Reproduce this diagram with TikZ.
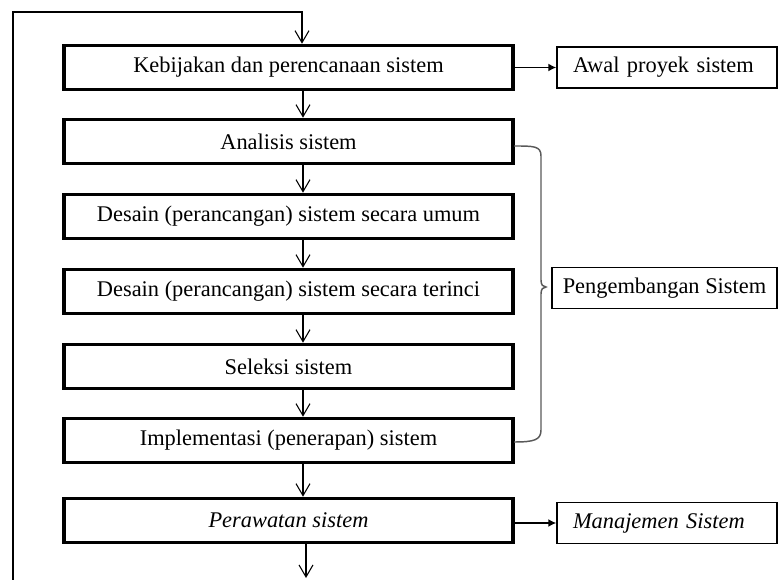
\documentclass[tikz,border=0pt]{standalone}
\usepackage{fontspec}
\setmainfont{Liberation Serif}
\usetikzlibrary{arrows.meta}
\begin{document}
\begin{tikzpicture}[x=0.75pt,y=-0.75pt,
  txt/.style={font=\fontsize{16.8}{19}\selectfont},
  mainbox/.style={txt, draw, line width=2.7pt, minimum width=336.75pt, minimum height=33pt, inner sep=0pt},
  sidebox/.style={txt, draw, line width=1.1pt, minimum height=30.5pt, inner ysep=0pt},
  leftside/.style={sidebox, text width=152pt, inner xsep=6.5pt, align=left},
  flow/.style={line width=0.8pt, -{Straight Barb[length=9pt,width=10.5pt]}},
  solidarr/.style={line width=1.1pt, -{Latex[length=6pt,width=6pt]}},
  bracestyle/.style={draw=black!65, line width=1.1pt}]
\useasboundingbox (0,0) rectangle (778,580);

% main column
\node[mainbox] (b1) at (288.5,67.5) {Kebijakan dan perencanaan sistem};
\node[mainbox] (b2) at (288.5,141.5) {Analisis sistem};
\node[mainbox] (b3) at (288.5,216.5) {Desain (perancangan) sistem secara umum};
\node[mainbox] (b4) at (288.5,291.5) {Desain (perancangan) sistem secara terinci};
\node[mainbox] (b5) at (288.5,366.5) {Seleksi sistem};
\node[mainbox] (b6) at (288.5,440.5) {Implementasi (penerapan) sistem};
\node[mainbox] (b7) at (288.5,520.5) {\itshape Perawatan sistem};

% side boxes
\node[leftside] (awal) at (667,67.5) {\hspace{5.5pt}Awal proyek sistem};
\node[sidebox, minimum width=168.75pt] (peng) at (664.5,288) {Pengembangan Sistem};
\node[leftside] (man) at (667,523) {\hspace{5.5pt}\itshape Manajemen Sistem};

% arrow column
\coordinate (ax) at (303,0);
\coordinate (lb) at (13,580);
\coordinate (lt) at (13,12);
\coordinate (rt) at (302,12);
\coordinate (endb) at (306,578);

\draw[flow] (lb) -- (lt) -- (rt) -- (b1.north -| rt);
\draw[flow] (b1.south -| ax) -- (b2.north -| ax);
\draw[flow] (b2.south -| ax) -- (b3.north -| ax);
\draw[flow] (b3.south -| ax) -- (b4.north -| ax);
\draw[flow] (b4.south -| ax) -- (b5.north -| ax);
\draw[flow] (b5.south -| ax) -- (b6.north -| ax);
\draw[flow] (b6.south -| ax) -- (b7.north -| ax);
\draw[flow] (b7.south -| endb) -- (endb);

\draw[solidarr] (b1.east) -- (awal.west);
\draw[solidarr] (b7.east |- man.west) -- (man.west);

% brace
\draw[bracestyle] (514,146) .. controls (534,146) and (541,146) .. (541,156)
  -- (541,280) .. controls (541,285) and (543,287) .. (546,287)
  .. controls (543,287) and (541,289) .. (541,294)
  -- (541,430) .. controls (541,440) and (534,442) .. (514,442);
\end{tikzpicture}
\end{document}
